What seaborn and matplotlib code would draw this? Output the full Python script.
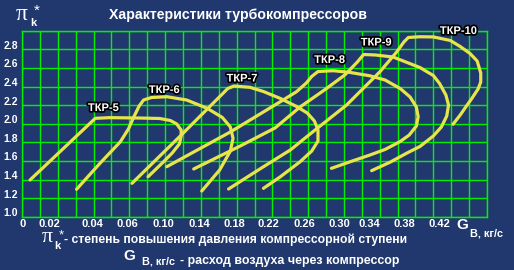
import numpy as np
import pandas as pd
import matplotlib
matplotlib.use("Agg")
import matplotlib.pyplot as plt
import matplotlib.patheffects as pe
import matplotlib.transforms as mtransforms
import seaborn as sns

# ---------------- data ----------------
tkp5_x = [0.009, 0.082, 0.098, 0.132, 0.154, 0.166, 0.173, 0.178, 0.178, 0.176, 0.168, 0.158, 0.141]
tkp5_y = [1.395, 2.058, 2.065, 2.061, 2.056, 2.034, 1.997, 1.932, 1.868, 1.782, 1.685, 1.588, 1.430]

tkp6_x = [0.061, 0.087, 0.110, 0.119, 0.125, 0.131, 0.136, 0.145, 0.162, 0.184, 0.207, 0.224, 0.233, 0.236, 0.233, 0.221, 0.201]
tkp6_y = [1.295, 1.572, 1.806, 1.943, 2.072, 2.190, 2.255, 2.282, 2.290, 2.255, 2.166, 2.067, 1.965, 1.843, 1.706, 1.502, 1.276]

tkp7_x = [0.123, 0.177, 0.224, 0.230, 0.237, 0.255, 0.270, 0.289, 0.307, 0.319, 0.327, 0.331, 0.331, 0.324, 0.311, 0.289, 0.270]
tkp7_y = [1.359, 1.868, 2.319, 2.378, 2.405, 2.391, 2.346, 2.271, 2.185, 2.115, 2.029, 1.932, 1.814, 1.706, 1.591, 1.430, 1.305]

tkp8_x = [0.162, 0.233, 0.289, 0.307, 0.318, 0.324, 0.331, 0.348, 0.367, 0.389, 0.406, 0.423, 0.434, 0.441, 0.443, 0.441, 0.433, 0.423, 0.406, 0.389, 0.367, 0.346]
tkp8_y = [1.538, 1.911, 2.237, 2.344, 2.438, 2.508, 2.561, 2.570, 2.551, 2.515, 2.470, 2.378, 2.287, 2.180, 2.075, 1.975, 1.878, 1.809, 1.723, 1.663, 1.591, 1.520]

tkp9_x = [0.192, 0.244, 0.283, 0.311, 0.339, 0.361, 0.375, 0.382, 0.395, 0.415, 0.445, 0.460, 0.467, 0.474, 0.477, 0.475, 0.469, 0.460, 0.445, 0.430, 0.412, 0.391]
tkp9_y = [1.513, 1.760, 1.954, 2.180, 2.368, 2.524, 2.663, 2.744, 2.739, 2.717, 2.604, 2.518, 2.432, 2.309, 2.201, 2.083, 1.965, 1.868, 1.755, 1.682, 1.588, 1.495]

tkp10_x = [0.231, 0.266, 0.300, 0.325, 0.363, 0.400, 0.419, 0.427, 0.432, 0.445, 0.460, 0.479, 0.490, 0.501, 0.509, 0.513, 0.513, 0.510, 0.503, 0.497, 0.490, 0.482]
tkp10_y = [1.298, 1.513, 1.717, 1.911, 2.201, 2.556, 2.771, 2.878, 2.927, 2.935, 2.933, 2.895, 2.830, 2.755, 2.674, 2.545, 2.448, 2.373, 2.271, 2.190, 2.093, 1.994]

curve_names = ["ТКР-5", "ТКР-6", "ТКР-7", "ТКР-8", "ТКР-9", "ТКР-10"]
curve_xs = [tkp5_x, tkp6_x, tkp7_x, tkp8_x, tkp9_x, tkp10_x]
curve_ys = [tkp5_y, tkp6_y, tkp7_y, tkp8_y, tkp9_y, tkp10_y]
label_x = [0.091, 0.159, 0.246, 0.344, 0.396, 0.488]
label_y = [2.169, 2.362, 2.486, 2.685, 2.873, 2.997]

x_tick_pos = [0.001, 0.031, 0.079, 0.118, 0.158, 0.198, 0.237, 0.276, 0.316, 0.355, 0.388, 0.428, 0.467]
x_tick_labels = ["0", "0.02", "0.04", "0.06", "0.10", "0.14", "0.18", "0.22", "0.26", "0.30", "0.34", "0.38", "0.42"]
y_tick_vals = [1.0, 1.2, 1.4, 1.6, 1.8, 2.0, 2.2, 2.4, 2.6, 2.8]
y_tick_labels = ["1.0", "1.2", "1.4", "1.6", "1.8", "2.0", "2.2", "2.4", "2.6", "2.8"]

title = "Характеристики турбокомпрессоров"
note_pi = "- степень повышения давления компрессорной ступени"
note_g = "- расход воздуха через компрессор"

# ---------------- style ----------------
BG = "#21386E"
GRID = "#00F000"
YEL = "#E6E64A"

sns.set_theme(style="white")
plt.rcParams["font.family"] = ["Liberation Sans", "DejaVu Sans"]

W, H = 514, 270
fig = plt.figure(figsize=(W / 100, H / 100), dpi=100, facecolor=BG)
ax = fig.add_axes([22 / W, 1 - 216.7 / H, 465 / W, 186 / H])
ax.set_facecolor(BG)

frames = []
for name, xs, ys in zip(curve_names, curve_xs, curve_ys):
    frames.append(pd.DataFrame({"x": xs, "y": ys, "curve": name}))
df = pd.concat(frames, ignore_index=True)

sns.lineplot(data=df, x="x", y="y", units="curve", estimator=None, sort=False,
             color=YEL, lw=2.3, ax=ax, legend=False, zorder=3)

ax.set_xlim(0, 0.52)
ax.set_ylim(1.0, 3.0)
ax.set_xlabel("")
ax.set_ylabel("")

ax.xaxis.remove_overlapping_locs = False
ax.yaxis.remove_overlapping_locs = False
ax.set_xticks(np.arange(0, 0.5201, 0.02), minor=True)
ax.set_yticks(np.arange(1.0, 3.001, 0.2), minor=True)
ax.grid(False, which="major")
ax.grid(True, which="minor", color=GRID, lw=1.0)
ax.set_axisbelow(True)
for s in ax.spines.values():
    s.set_color(GRID)
    s.set_linewidth(1.0)

ax.set_xticks(x_tick_pos)
ax.set_xticklabels(x_tick_labels)
ax.set_yticks(y_tick_vals)
ax.set_yticklabels(y_tick_labels)
ax.tick_params(which="both", length=0)
ax.tick_params(axis="x", pad=2, labelsize=8, labelcolor="white")
ax.tick_params(axis="y", pad=3, labelsize=7.5, labelcolor="white")
for lab in ax.get_xticklabels() + ax.get_yticklabels():
    lab.set_fontweight("bold")
off = mtransforms.ScaledTranslation(0, 4.5 / 100, fig.dpi_scale_trans)
for lab in ax.get_yticklabels():
    lab.set_transform(lab.get_transform() + off)

for name, lx, ly in zip(curve_names, label_x, label_y):
    ax.text(lx, ly, name, ha="center", va="center", color="white", fontsize=8,
            fontweight="bold", zorder=5, clip_on=False,
            path_effects=[pe.withStroke(linewidth=2.5, foreground="black")])


def ft(x, y, s, **kw):
    fig.text(x / W, 1 - y / H, s, color="white", **kw)


ft(238, 15, title, ha="center", va="center", fontsize=10.2, fontweight="bold")

# top-left pi_k*
ft(22, 14, "π", ha="center", va="center", fontsize=17, family="Liberation Serif")
ft(33, 23, "k", ha="center", va="center", fontsize=8, fontweight="bold")
ft(37, 11, "*", ha="center", va="center", fontsize=11)

# right G_B, kg/s
ft(462.5, 225, "G", ha="center", va="center", fontsize=11, fontweight="bold")
ft(470, 233, "В, кг/с", ha="left", va="center", fontsize=7.8, fontweight="bold")

# bottom notes
ft(47, 238, "π", ha="center", va="center", fontsize=16, family="Liberation Serif")
ft(57, 246, "k", ha="center", va="center", fontsize=8, fontweight="bold")
ft(61.5, 235, "*", ha="center", va="center", fontsize=9.5)
ft(64, 240, note_pi, ha="left", va="center", fontsize=8.75, fontweight="bold")

ft(129.5, 255.5, "G", ha="center", va="center", fontsize=11, fontweight="bold")
ft(142, 262, "В, кг/с", ha="left", va="center", fontsize=7.8, fontweight="bold")
ft(180, 261, note_g, ha="left", va="center", fontsize=8.9, fontweight="bold")

fig.savefig("out.png", dpi=100, facecolor=BG)
